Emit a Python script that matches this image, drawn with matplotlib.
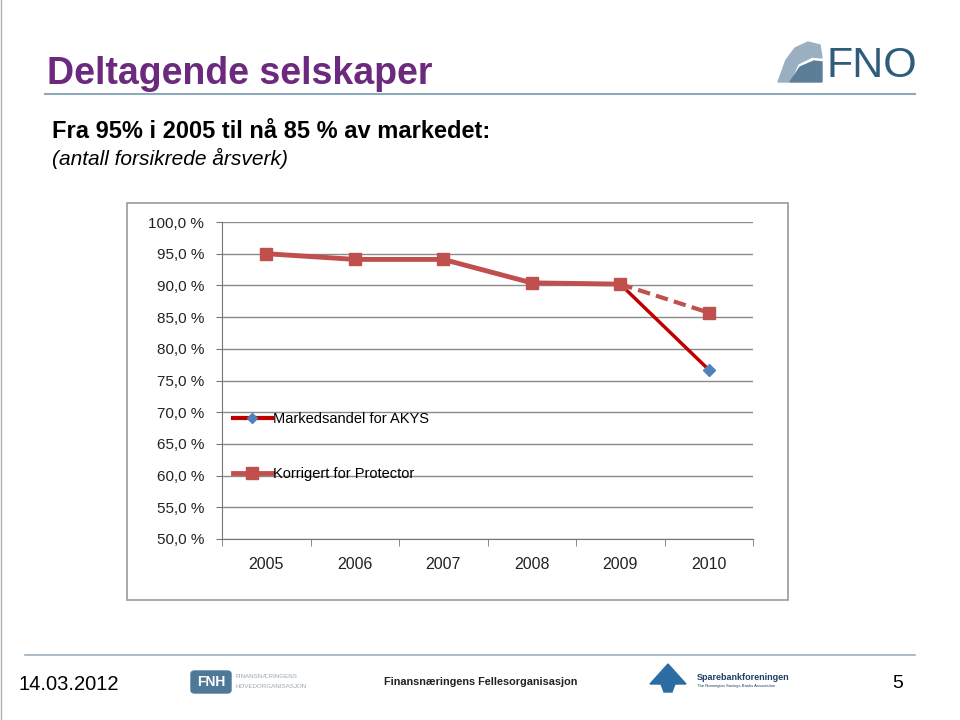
import matplotlib
matplotlib.use("Agg")
import matplotlib.pyplot as plt
from matplotlib.patches import Rectangle, FancyBboxPatch, Polygon
from matplotlib.lines import Line2D
import numpy as np

years = ["2005", "2006", "2007", "2008", "2009", "2010"]
akys = [95.0, 94.1, 94.1, 90.4, 90.2, 76.7]
korrigert = [95.0, 94.1, 94.1, 90.4, 90.2, 85.7]
yticks = [50, 55, 60, 65, 70, 75, 80, 85, 90, 95, 100]
ytick_labels = ["50,0 %", "55,0 %", "60,0 %", "65,0 %", "70,0 %", "75,0 %",
                "80,0 %", "85,0 %", "90,0 %", "95,0 %", "100,0 %"]

W, H = 960, 720
fig = plt.figure(figsize=(9.6, 7.2), dpi=100)
fig.patch.set_facecolor("white")
plt.rcParams['font.family'] = ['Liberation Sans', 'DejaVu Sans']

def fx(x):
    return x / W

def fy(y):
    return 1 - y / H

# slide left border
fig.add_artist(Line2D([fx(1), fx(1)], [0, 1], color="#b0b0b0", lw=1))

# Title
fig.text(fx(47), fy(74), "Deltagende selskaper", color="#6B2A7E", fontsize=27,
         fontweight="bold", va="center", ha="left")
# header rule
fig.add_artist(Line2D([fx(45), fx(915)], [fy(94), fy(94)], color="#8FA9BC", lw=1.5))

# FNO logo
logo_shape = Polygon([[fx(778), fy(82)], [fx(786), fy(60)], [fx(795), fy(48)],
                      [fx(808), fy(42)], [fx(820), fy(45)], [fx(822), fy(58)],
                      [fx(812), fy(57)], [fx(798), fy(64)], [fx(790), fy(82)]],
                     closed=True, transform=fig.transFigure, color="#9AAFC2")
fig.add_artist(logo_shape)
logo_shape2 = Polygon([[fx(790), fy(82)], [fx(800), fy(67)], [fx(814), fy(61)],
                       [fx(822), fy(62)], [fx(822), fy(82)]],
                      closed=True, transform=fig.transFigure, color="#5C7E99")
fig.add_artist(logo_shape2)
fig.text(fx(826), fy(66), "FNO", color="#2E5C7A", fontsize=31, va="center",
         ha="left", family=["Liberation Sans"])

# Subtitle
fig.text(fx(52), fy(131), "Fra 95% i 2005 til nå 85 % av markedet:", fontsize=17,
         fontweight="bold", va="center", ha="left", color="black")
fig.text(fx(52), fy(158), "(antall forsikrede årsverk)", fontsize=15,
         fontstyle="italic", va="center", ha="left", color="black")

# Chart border box
fig.add_artist(Rectangle((fx(127), fy(600)), fx(788 - 127), (600 - 203) / H,
                         transform=fig.transFigure, fill=False,
                         edgecolor="#9a9a9a", lw=1.2))

# Axes
ax = fig.add_axes([fx(222), fy(539), fx(753 - 222), (539 - 222) / H])
x = np.arange(len(years))
ax.set_xlim(-0.5, len(years) - 0.5)
ax.set_ylim(50, 100)
ax.set_yticks(yticks)
ax.set_yticklabels(ytick_labels, fontsize=11, color="#222222")
ax.set_xticks(x)
ax.set_xticklabels(years, fontsize=11.5, color="#222222")
ax.set_xticks(np.arange(-0.5, len(years), 1.0), minor=True)
ax.tick_params(axis="x", which="major", length=0, pad=13)
ax.tick_params(axis="x", which="minor", length=5, color="#777777")
ax.tick_params(axis="y", length=4, color="#777777", pad=9)
ax.grid(axis="y", color="#8a8a8a", lw=1)
ax.set_axisbelow(True)
for s in ["top", "right"]:
    ax.spines[s].set_visible(False)
ax.spines["left"].set_color("#777777")
ax.spines["bottom"].set_color("#777777")

# AKYS series
ax.plot(x, akys, color="#C00000", lw=2.5, zorder=3)
ax.plot(x, akys, ls="none", marker="D", ms=6, color="#4F81BD", zorder=3)
# Korrigert series: solid through 2009, dashed to 2010
ax.plot(x[:5], korrigert[:5], color="#C0504D", lw=3.5, zorder=4)
ax.plot(x[4:], korrigert[4:], color="#C0504D", lw=3, ls=(0, (3, 1.5)), zorder=4)
ax.plot(x, korrigert, ls="none", marker="s", ms=9, color="#C0504D", zorder=5)

h1 = Line2D([], [], color="#C00000", lw=3, marker="D", ms=5,
            markerfacecolor="#4F81BD", markeredgecolor="#4F81BD")
h2 = Line2D([], [], color="#C0504D", lw=3.5, marker="s", ms=9)
ax.legend([h1, h2], ["Markedsandel for AKYS", "Korrigert for Protector"],
          loc="upper left", bbox_to_anchor=(0.02, 0.401), frameon=False,
          fontsize=10.5, labelspacing=2.85, handlelength=2.7, handletextpad=0.1,
          borderaxespad=0, borderpad=0)

# Footer
fig.add_artist(Line2D([fx(25), fx(915)], [fy(655), fy(655)], color="#9DB0BF", lw=1.2))
fig.text(fx(18), fy(684), "14.03.2012", fontsize=14.5, va="center", ha="left")
fig.text(fx(903), fy(684), "5", fontsize=14, va="center", ha="right")
fig.add_artist(FancyBboxPatch((fx(191), fy(693)), fx(40), 22 / H,
                              boxstyle="round,pad=0,rounding_size=0.004",
                              transform=fig.transFigure, color="#4E7897"))
fig.text(fx(211), fy(682), "FNH", fontsize=10, fontweight="bold", color="white",
         va="center", ha="center")
fig.text(fx(235), fy(677), "FINANSNÆRINGENS", fontsize=4.5, color="#9aa7b2",
         va="center", ha="left")
fig.text(fx(235), fy(687), "HOVEDORGANISASJON", fontsize=4.5, color="#9aa7b2",
         va="center", ha="left")
fig.text(fx(481), fy(682), "Finansnæringens Fellesorganisasjon", fontsize=7.8,
         va="center", ha="center", color="#222222", fontweight="bold")
spb = Polygon([[fx(650), fy(684)], [fx(668), fy(664)], [fx(686), fy(684)],
               [fx(675), fy(684)], [fx(672), fy(692)], [fx(664), fy(692)],
               [fx(661), fy(684)]], closed=True, transform=fig.transFigure,
              color="#2B6CA3")
fig.add_artist(spb)
fig.text(fx(697), fy(677), "Sparebankforeningen", fontsize=6.5, color="#1F3F66",
         va="center", ha="left", fontweight="bold")
fig.text(fx(697), fy(686), "The Norwegian Savings Banks Association", fontsize=3,
         color="#1F3F66", va="center", ha="left")

fig.savefig("out.png", dpi=100)
